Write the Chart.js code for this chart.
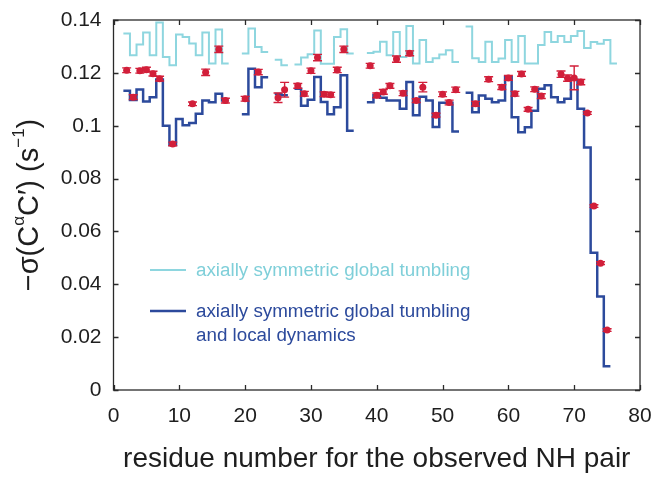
<!DOCTYPE html>
<html>
<head>
<meta charset="utf-8">
<script src="https://cdn.jsdelivr.net/npm/chart.js@4.4.1/dist/chart.umd.min.js"></script>
<style>
  html, body { margin: 0; padding: 0; background: #fff; }
  #wrap { width: 659px; height: 486px; }
</style>
</head>
<body>
<div id="wrap"><canvas id="chart" width="659" height="486"></canvas></div>
<script>
// residue numbers (x categories)
const residues = [1, 2, 3, 4, 5, 6, 7, 8, 9, 10, 11, 12, 13, 14, 15, 16, 17, 18, 19, 20,
  21, 22, 23, 24, 25, 26, 27, 28, 29, 30, 31, 32, 33, 34, 35, 36, 37, 38, 39, 40,
  41, 42, 43, 44, 45, 46, 47, 48, 49, 50, 51, 52, 53, 54, 55, 56, 57, 58, 59, 60,
  61, 62, 63, 64, 65, 66, 67, 68, 69, 70, 71, 72, 73, 74, 75, 76];

// axially symmetric global tumbling (light cyan stairs)
const globalTumbling = [null,
  0.1349, 0.1267, 0.1307, 0.1353, 0.1267, 0.1391, 0.1260, 0.1229, 0.1345, 0.1336,
  0.1311, 0.1267, 0.1353, 0.1235, 0.1364, 0.1235, null, null,
  0.1273, 0.1368, 0.1298, 0.1279, null,
  0.1250, 0.1229, null,
  0.1232, 0.1258, 0.1270, 0.1360, 0.1234, 0.1234, 0.1336, 0.1365, 0.1273, null, null,
  0.1275, 0.1280, 0.1318, 0.1267, 0.1355, 0.1260, 0.1377, 0.1235, 0.1324, 0.1241,
  0.1255, 0.1269, 0.1286, 0.1241, null,
  0.1375, 0.1255, 0.1241, 0.1318, 0.1241, 0.1254, 0.1324, 0.1241, 0.1339, 0.1235,
  0.1235, 0.1305, 0.1355, 0.1317, 0.1339, 0.1317, 0.1339, 0.1358, 0.1294, 0.1317,
  0.1310, 0.1324, 0.1235];

// axially symmetric global tumbling and local dynamics (dark blue stairs)
const localDynamics = [null,
  0.1132, 0.1097, 0.1137, 0.1092, 0.1108, 0.1175, 0.1000, 0.0927, 0.1025, 0.1002,
  0.1010, 0.1045, 0.1095, 0.1089, 0.1121, 0.1095, null, null,
  0.1043, 0.1216, 0.1146, 0.1183, null,
  0.1120, 0.1115, null,
  0.1140, 0.1076, 0.1098, 0.1184, 0.1090, 0.1043, 0.1070, 0.1191, 0.0981, null, null,
  0.1089, 0.1115, 0.1106, 0.1095, 0.1095, 0.1064, 0.1165, 0.1040, 0.1110, 0.1095,
  0.0995, 0.1087, 0.1087, 0.0978, null,
  0.1125, 0.1051, 0.1114, 0.1102, 0.1089, 0.1095, 0.1184, 0.1032, 0.0975, 0.0994,
  0.1057, 0.1140, 0.1153, 0.1108, 0.1089, 0.1102, 0.1174, 0.1064, 0.0918, 0.0519,
  0.0354, 0.0090, null];

// measured values with error bars (red)
const measRes = [2, 3, 4, 5, 6, 7, 9, 12, 14, 16, 17, 20, 22, 25, 26, 28, 29, 30, 31, 32,
  33, 34, 35, 39, 40, 41, 42, 43, 44, 45, 46, 47, 49, 50, 51, 52, 55, 57, 59, 60,
  61, 62, 63, 64, 65, 68, 69, 70, 71, 72, 73, 74, 75];
const measVal = [0.1210, 0.1108, 0.1208, 0.1212, 0.1197, 0.1178, 0.0931, 0.1083, 0.1202, 0.1289,
  0.1095, 0.1102, 0.1203, 0.1106, 0.1136, 0.1151, 0.1121, 0.1208, 0.1258, 0.1119,
  0.1117, 0.1211, 0.1289, 0.1227, 0.1115, 0.1128, 0.1151, 0.1252, 0.1123, 0.1274,
  0.1095, 0.1146, 0.1040, 0.1119, 0.1088, 0.1136, 0.1083, 0.1176, 0.1146, 0.1181,
  0.1121, 0.1196, 0.1062, 0.1138, 0.1112, 0.1195, 0.1180, 0.1181, 0.1165, 0.1048,
  0.0696, 0.0480, 0.0227];
const measErr = [0.0009, 0.0009, 0.0009, 0.0009, 0.0009, 0.0009, 0.0007, 0.0007, 0.0012, 0.0012,
  0.0009, 0.0009, 0.0010, 0.0018, 0.0028, 0.0009, 0.0009, 0.0010, 0.0012, 0.0009,
  0.0009, 0.0010, 0.0012, 0.0009, 0.0009, 0.0009, 0.0009, 0.0012, 0.0009, 0.0009,
  0.0007, 0.0018, 0.0007, 0.0009, 0.0009, 0.0010, 0.0009, 0.0009, 0.0009, 0.0009,
  0.0009, 0.0009, 0.0007, 0.0009, 0.0009, 0.0012, 0.0012, 0.0045, 0.0010, 0.0005,
  0.0005, 0.0005, 0.0005];

const xTicks = [0, 10, 20, 30, 40, 50, 60, 70, 80];
const yTicks = [0, 0.02, 0.04, 0.06, 0.08, 0.1, 0.12, 0.14];

const CYAN = '#8ed6df';
const BLUE = '#2c4a9c';
const RED = '#d21f3a';
const INK = '#1e1e1e';
const FONT = '"Liberation Sans", Arial, Helvetica, sans-serif';

// each residue's value drawn as a flat step centred on the residue
function stairs(vals) {
  const pts = [];
  vals.forEach((v, i) => {
    const r = residues[i];
    if (v === null) { pts.push({ x: r, y: null }); return; }
    pts.push({ x: r - 0.5, y: v }, { x: r + 0.5, y: v });
  });
  return pts;
}

const decor = {
  id: 'decor',
  beforeDatasetDraw(chart, args) {
    if (args.index !== 0) return;
    const { ctx, scales: { x, y } } = chart;
    ctx.save();
    ctx.strokeStyle = RED;
    ctx.lineWidth = 1.4;
    measRes.forEach((r, i) => {
      const px = x.getPixelForValue(r);
      const hi = y.getPixelForValue(measVal[i] + measErr[i]);
      const lo = y.getPixelForValue(measVal[i] - measErr[i]);
      ctx.beginPath();
      ctx.moveTo(px, hi); ctx.lineTo(px, lo);
      ctx.moveTo(px - 4.5, hi); ctx.lineTo(px + 4.5, hi);
      ctx.moveTo(px - 4.5, lo); ctx.lineTo(px + 4.5, lo);
      ctx.stroke();
    });
    ctx.restore();
  },
  afterDraw(chart) {
    const { ctx, chartArea: a, scales: { x, y } } = chart;
    ctx.save();
    // box and inward ticks
    ctx.strokeStyle = '#2a2a2a';
    ctx.lineWidth = 1.3;
    ctx.strokeRect(a.left, a.top, a.right - a.left, a.bottom - a.top);
    ctx.beginPath();
    xTicks.forEach(t => {
      const px = Math.round(x.getPixelForValue(t)) + 0.5;
      ctx.moveTo(px, a.bottom); ctx.lineTo(px, a.bottom - 5);
      ctx.moveTo(px, a.top); ctx.lineTo(px, a.top + 5);
    });
    yTicks.forEach(t => {
      const py = Math.round(y.getPixelForValue(t)) + 0.5;
      ctx.moveTo(a.left, py); ctx.lineTo(a.left + 5, py);
      ctx.moveTo(a.right, py); ctx.lineTo(a.right - 5, py);
    });
    ctx.stroke();

    // x title, centred on the axes
    ctx.fillStyle = INK;
    ctx.font = '28px ' + FONT;
    ctx.textAlign = 'center';
    ctx.textBaseline = 'middle';
    ctx.fillText('residue number for the observed NH pair', (a.left + a.right) / 2, 459);

    // y title with superscripts
    ctx.translate(30, (a.top + a.bottom) / 2);
    ctx.rotate(-Math.PI / 2);
    const parts = [['\u2212\u03c3(C', 29, 0], ['\u03b1', 17, -11], ['C\u2032) (s', 29, 0], ['\u22121', 17, -11], [')', 29, 0]];
    let total = 0;
    parts.forEach(p => { ctx.font = p[1] + 'px ' + FONT; total += ctx.measureText(p[0]).width; });
    let cx = -total / 2;
    ctx.textAlign = 'left';
    parts.forEach(p => {
      ctx.font = p[1] + 'px ' + FONT;
      ctx.fillText(p[0], cx, p[2]);
      cx += ctx.measureText(p[0]).width;
    });
    ctx.setTransform(1, 0, 0, 1, 0, 0);

    // legend
    ctx.font = '18.8px ' + FONT;
    ctx.textBaseline = 'middle';
    ctx.textAlign = 'left';
    ctx.lineWidth = 2;
    ctx.strokeStyle = CYAN;
    ctx.beginPath(); ctx.moveTo(150, 270); ctx.lineTo(186, 270); ctx.stroke();
    ctx.fillStyle = '#7fcfd9';
    ctx.fillText('axially symmetric global tumbling', 196, 271);
    ctx.lineWidth = 2.5;
    ctx.strokeStyle = BLUE;
    ctx.beginPath(); ctx.moveTo(150, 311); ctx.lineTo(186, 311); ctx.stroke();
    ctx.fillStyle = BLUE;
    ctx.fillText('axially symmetric global tumbling', 196, 312);
    ctx.fillText('and local dynamics', 196, 336);
    ctx.restore();
  }
};

new Chart(document.getElementById('chart'), {
  type: 'line',
  data: {
    datasets: [
      {
        type: 'scatter',
        data: measRes.map((r, i) => ({ x: r, y: measVal[i] })),
        showLine: false,
        pointRadius: 3.5,
        pointBorderWidth: 0,
        pointBackgroundColor: RED,
        order: 0
      },
      {
        data: stairs(localDynamics),
        borderColor: BLUE,
        borderWidth: 2.5,
        pointRadius: 0,
        spanGaps: false,
        tension: 0,
        borderJoinStyle: 'miter',
        order: 1
      },
      {
        data: stairs(globalTumbling),
        borderColor: CYAN,
        borderWidth: 2,
        pointRadius: 0,
        spanGaps: false,
        tension: 0,
        borderJoinStyle: 'miter',
        order: 2
      }
    ]
  },
  options: {
    responsive: false,
    animation: false,
    events: [],
    layout: { padding: { left: 0, right: 19, top: 20, bottom: 0 } },
    plugins: { legend: { display: false }, tooltip: { enabled: false } },
    scales: {
      x: {
        type: 'linear', min: 0, max: 80,
        afterBuildTicks(s) { s.ticks = xTicks.map(v => ({ value: v })); },
        afterFit(s) { s.height = 96; },
        ticks: { font: { family: FONT, size: 21 }, color: INK, padding: 6, maxRotation: 0 },
        grid: { display: false },
        border: { display: false }
      },
      y: {
        type: 'linear', min: 0, max: 0.14,
        afterBuildTicks(s) { s.ticks = yTicks.map(v => ({ value: v })); },
        afterFit(s) { s.width = 113.5; },
        ticks: {
          font: { family: FONT, size: 21 }, color: INK, padding: 4,
          callback: v => String(Math.round(v * 100) / 100)
        },
        grid: { display: false },
        border: { display: false }
      }
    }
  },
  plugins: [decor]
});
</script>
</body>
</html>
